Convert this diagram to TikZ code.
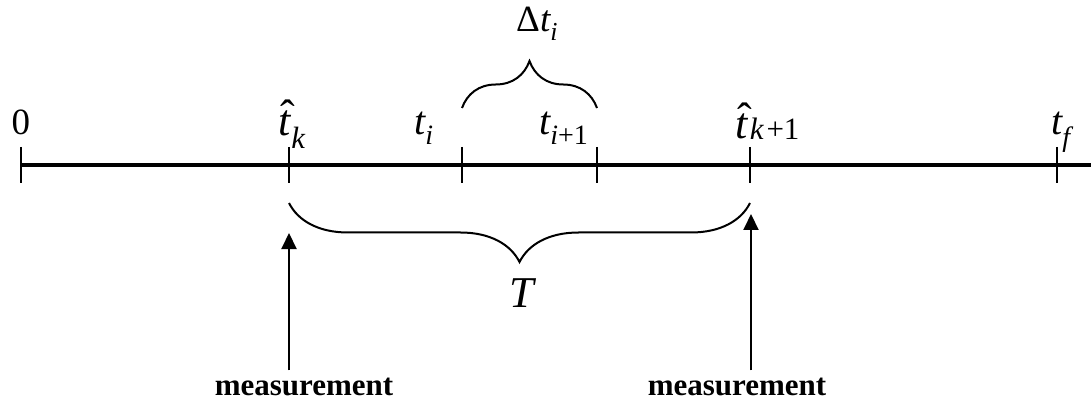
\documentclass[tikz,border=0pt]{standalone}
\usepackage{amsmath}
\usepackage{fontspec}
\setmainfont{Liberation Serif}
\usetikzlibrary{positioning,arrows.meta,decorations.pathreplacing}

\newcommand{\fsz}[1]{\fontsize{#1}{#1}\selectfont}
\newcommand{\that}{\text{\makebox[0pt][l]{\kern0.05em\raisebox{0.12em}{ˆ}}\textit{t}}}

\begin{document}
\begin{tikzpicture}[
    x=1pt, y=-1pt,
    axis/.style={line width=4pt},
    tick/.style={line width=2.6pt},
    brace/.style={decorate, line width=2pt, decoration={brace, amplitude=#1}},
    lbl/.style={inner sep=0pt, anchor=base west},
    measarrow/.style={line width=2pt, -{Triangle[length=16pt, width=15pt]}},
    measlabel/.style={inner sep=0pt, anchor=base, font=\fsz{31}\bfseries}
]
\useasboundingbox (0,0) rectangle (1091,403);

% time axis and ticks
\draw[axis] (20,165) -- (1091,165);
\foreach \x/\n in {21/t0, 289/tk, 462/ti, 597/tii, 750/tkk, 1057/tf} {
    \coordinate (\n) at (\x,165);
    \draw[tick] (\x,147) -- (\x,183);
}

% tick labels
\node[inner sep=0pt, anchor=base, font=\fsz{37}] (l0) at (21,135) {0};
\node[lbl, font=\fsz{44}] (lk) at (278,136) {$\that_{\textit{k}}$};
\node[lbl, font=\fsz{40}] (li) at (414,135) {$\textit{t}_{\textit{i}}$};
\node[lbl, font=\fsz{40}] (lii) at (539,135) {$\textit{t}_{\text{\textit{i}+1}}$};
\node[lbl, font=\fsz{44}] (lkk) at (735,139) {\that\kern1.5pt\raisebox{-1pt}{\fsz{31}\textit{k}\kern0.08em+1}};
\node[lbl, font=\fsz{40}] (lf) at (1051,135) {$\textit{t}_{\textit{f}}$};

% braces
\draw[brace=47pt] ([yshift=57pt]ti) -- ([yshift=57pt]tii);
\node[lbl, font=\fsz{37}] (ldt) at (516,32) {Δ$\textit{t}_{\textit{i}}$};
\draw[brace=59pt] ([yshift=-38pt]tkk) -- ([yshift=-38pt]tk);
\node[inner sep=0pt, anchor=base, font=\fsz{44}\itshape] (lT) at (522,307) {T};

% measurements
\coordinate (tip1) at (289,233);
\coordinate (tip2) at (751,214);
\node[measlabel] (m1) at (304,395) {measurement};
\node[measlabel] (m2) at (737,395) {measurement};
\draw[measarrow] ([yshift=7pt]m1.north -| tk) -- (tip1);
\draw[measarrow] ([yshift=7pt]m2.north -| tip2) -- (tip2);

\end{tikzpicture}
\end{document}
